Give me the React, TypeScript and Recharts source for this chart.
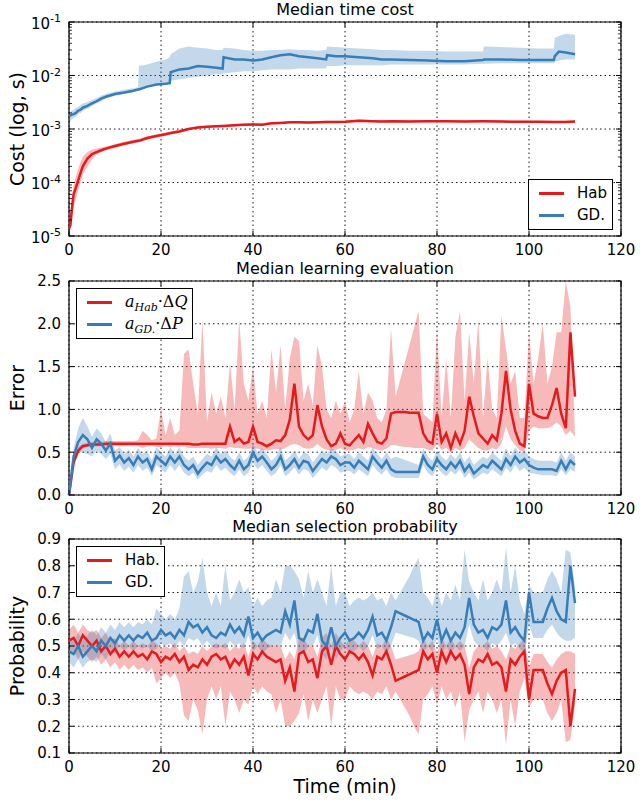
import { type FC, type ReactNode } from "react";
import {
  ComposedChart,
  Area,
  Line,
  XAxis,
  YAxis,
  CartesianGrid,
  ReferenceArea,
} from "recharts";

// ---- panel 1: median time cost (log scale) ----
const COST_T = [
  0, 0.3, 0.6, 1, 1.5, 2, 2.5, 3, 4, 5,
  6, 7, 8, 10, 12, 14, 15, 15.2, 17, 19,
  21, 21.9, 22.1, 24, 26, 28, 30, 32, 33.4, 33.6,
  36, 38, 40, 42, 44, 46, 48, 50, 52, 54,
  55.9, 56.1, 58, 60, 63, 66, 68, 70, 74, 78,
  82, 86, 90, 90.2, 94, 98, 102, 105.4, 105.6, 106.5,
  108, 110,
];
const COST_HAB = [
  1.4e-5, 1.6e-5, 3e-5, 6e-5, 8e-5, 1.1e-4, 1.5e-4, 2e-4, 2.8e-4, 3.4e-4,
  3.7e-4, 4e-4, 4.3e-4, 4.8e-4, 5.3e-4, 5.8e-4, 6e-4, 6e-4, 6.8e-4, 7.4e-4,
  8e-4, 8.3e-4, 8.4e-4, 9e-4, 1e-3, 1.07e-3, 1.1e-3, 1.12e-3, 1.14e-3, 1.14e-3,
  1.17e-3, 1.2e-3, 1.22e-3, 1.2e-3, 1.28e-3, 1.3e-3, 1.33e-3, 1.33e-3, 1.32e-3, 1.33e-3,
  1.35e-3, 1.35e-3, 1.35e-3, 1.36e-3, 1.42e-3, 1.4e-3, 1.38e-3, 1.4e-3, 1.38e-3, 1.4e-3,
  1.4e-3, 1.38e-3, 1.4e-3, 1.4e-3, 1.38e-3, 1.36e-3, 1.36e-3, 1.35e-3, 1.35e-3, 1.35e-3,
  1.35e-3, 1.38e-3,
];
const COST_HAB_LO = [
  1.2e-5, 1.3e-5, 2e-5, 3.5e-5, 5e-5, 7e-5, 1e-4, 1.4e-4, 2e-4, 2.7e-4,
  3.3e-4, 3.7e-4, 4e-4, 4.4e-4, 4.9e-4, 5.4e-4, 5.6e-4, 5.6e-4, 6.3e-4, 6.9e-4,
  7.5e-4, 7.8e-4, 7.9e-4, 8.5e-4, 9.5e-4, 1.02e-3, 1.05e-3, 1.07e-3, 1.09e-3, 1.09e-3,
  1.12e-3, 1.15e-3, 1.16e-3, 1.15e-3, 1.22e-3, 1.24e-3, 1.27e-3, 1.27e-3, 1.26e-3, 1.27e-3,
  1.29e-3, 1.29e-3, 1.29e-3, 1.3e-3, 1.35e-3, 1.33e-3, 1.32e-3, 1.33e-3, 1.32e-3, 1.33e-3,
  1.33e-3, 1.32e-3, 1.33e-3, 1.33e-3, 1.32e-3, 1.3e-3, 1.3e-3, 1.29e-3, 1.29e-3, 1.29e-3,
  1.29e-3, 1.31e-3,
];
const COST_HAB_HI = [
  1.8e-5, 2.5e-5, 5e-5, 9e-5, 1.3e-4, 1.8e-4, 2.4e-4, 3e-4, 3.7e-4, 4.1e-4,
  4.3e-4, 4.5e-4, 4.7e-4, 5.2e-4, 5.8e-4, 6.3e-4, 6.5e-4, 6.5e-4, 7.3e-4, 7.9e-4,
  8.6e-4, 8.9e-4, 9e-4, 9.8e-4, 1.06e-3, 1.12e-3, 1.16e-3, 1.18e-3, 1.2e-3, 1.2e-3,
  1.24e-3, 1.27e-3, 1.29e-3, 1.27e-3, 1.35e-3, 1.37e-3, 1.4e-3, 1.4e-3, 1.39e-3, 1.4e-3,
  1.42e-3, 1.42e-3, 1.42e-3, 1.43e-3, 1.5e-3, 1.48e-3, 1.46e-3, 1.47e-3, 1.45e-3, 1.48e-3,
  1.48e-3, 1.45e-3, 1.47e-3, 1.47e-3, 1.45e-3, 1.43e-3, 1.43e-3, 1.42e-3, 1.42e-3, 1.42e-3,
  1.42e-3, 1.45e-3,
];
const COST_GD = [
  1.7e-3, 1.8e-3, 1.85e-3, 1.9e-3, 2e-3, 2.2e-3, 2.3e-3, 2.5e-3, 2.7e-3, 3e-3,
  3.3e-3, 3.7e-3, 4e-3, 4.5e-3, 4.8e-3, 5.2e-3, 5.5e-3, 5.5e-3, 6.2e-3, 6.8e-3,
  7e-3, 7.2e-3, 1.15e-2, 1.3e-2, 1.35e-2, 1.5e-2, 1.45e-2, 1.4e-2, 1.35e-2, 2.2e-2,
  2e-2, 2e-2, 1.9e-2, 2e-2, 2.2e-2, 2.4e-2, 2.5e-2, 2.3e-2, 2.2e-2, 2.1e-2,
  2e-2, 2.4e-2, 2.3e-2, 2.3e-2, 2.2e-2, 2.1e-2, 2e-2, 2e-2, 1.95e-2, 1.9e-2,
  1.85e-2, 1.85e-2, 1.95e-2, 2e-2, 2e-2, 1.95e-2, 1.95e-2, 1.95e-2, 2.3e-2, 2.8e-2,
  2.7e-2, 2.5e-2,
];
const COST_GD_LO = [
  1.3e-3, 1.4e-3, 1.5e-3, 1.6e-3, 1.7e-3, 1.9e-3, 2e-3, 2.2e-3, 2.4e-3, 2.7e-3,
  3e-3, 3.3e-3, 3.7e-3, 4.2e-3, 4.5e-3, 4.9e-3, 5.2e-3, 5.3e-3, 6e-3, 6.5e-3,
  7e-3, 7.2e-3, 8e-3, 8.5e-3, 9e-3, 9.5e-3, 1e-2, 1.05e-2, 1.05e-2, 1.1e-2,
  1.15e-2, 1.2e-2, 1.2e-2, 1.25e-2, 1.3e-2, 1.3e-2, 1.3e-2, 1.35e-2, 1.35e-2, 1.35e-2,
  1.35e-2, 1.5e-2, 1.5e-2, 1.55e-2, 1.55e-2, 1.55e-2, 1.55e-2, 1.6e-2, 1.6e-2, 1.6e-2,
  1.6e-2, 1.6e-2, 1.65e-2, 1.65e-2, 1.7e-2, 1.7e-2, 1.7e-2, 1.7e-2, 1.8e-2, 1.9e-2,
  2e-2, 2e-2,
];
const COST_GD_HI = [
  2e-3, 2.1e-3, 2.2e-3, 2.3e-3, 2.5e-3, 2.6e-3, 2.8e-3, 3e-3, 3.2e-3, 3.5e-3,
  3.8e-3, 4.2e-3, 4.5e-3, 5e-3, 5.4e-3, 5.8e-3, 6e-3, 1.5e-2, 1.6e-2, 1.8e-2,
  2e-2, 2.2e-2, 2.5e-2, 3.2e-2, 3.5e-2, 3.3e-2, 3.2e-2, 3e-2, 3e-2, 3.3e-2,
  3.2e-2, 3e-2, 2.9e-2, 2.9e-2, 3e-2, 3e-2, 3.1e-2, 3e-2, 3e-2, 2.9e-2,
  3e-2, 3.5e-2, 3.4e-2, 3.3e-2, 3.2e-2, 3.1e-2, 3e-2, 3e-2, 2.9e-2, 2.9e-2,
  2.8e-2, 2.8e-2, 2.8e-2, 3.5e-2, 3.4e-2, 3.3e-2, 3.2e-2, 3.2e-2, 5e-2, 5.5e-2,
  6e-2, 5.8e-2,
];

// ---- panels 2 and 3 share one time base (minutes) ----
const T = [
  0, 1, 2, 3, 4, 5, 6, 7, 8, 9,
  10, 11, 12, 13, 14, 15, 16, 17, 18, 19,
  20, 21, 22, 23, 24, 25, 26, 27, 28, 29,
  30, 31, 32, 33, 34, 35, 36, 37, 38, 39,
  40, 41, 42, 43, 44, 45, 46, 47, 48, 49,
  50, 51, 52, 53, 54, 55, 56, 57, 58, 59,
  60, 61, 62, 63, 64, 65, 66, 67, 68, 69,
  70, 71, 72, 73, 74, 75, 76, 77, 78, 79,
  80, 81, 82, 83, 84, 85, 86, 87, 88, 89,
  90, 91, 92, 93, 94, 95, 96, 97, 98, 99,
  100, 101, 102, 103, 104, 105, 106, 107, 108, 109,
  110,
];

// ---- panel 2: median learning evaluation ----
const ERR_HAB = [
  0, 0.38, 0.52, 0.57, 0.58, 0.59, 0.59, 0.59, 0.6, 0.6,
  0.6, 0.6, 0.6, 0.6, 0.6, 0.6, 0.6, 0.6, 0.6, 0.6,
  0.6, 0.6, 0.6, 0.6, 0.6, 0.6, 0.6, 0.59, 0.59, 0.6,
  0.6, 0.6, 0.6, 0.6, 0.6, 0.8, 0.62, 0.66, 0.6, 0.62,
  0.8, 0.62, 0.6, 0.57, 0.6, 0.64, 0.63, 0.7, 0.88, 1.3,
  0.8, 0.7, 0.65, 0.7, 1.05, 0.8, 0.65, 0.57, 0.6, 0.72,
  0.6, 0.58, 0.64, 0.7, 0.62, 0.83, 0.72, 0.62, 0.6, 0.66,
  0.95, 0.97, 0.97, 0.97, 0.96, 0.96, 0.96, 0.72, 0.63, 0.6,
  0.95, 0.62, 0.72, 0.55, 0.72, 0.6, 0.75, 1.15, 0.92, 0.72,
  0.66, 0.6, 0.7, 0.64, 0.95, 1.45, 1.0, 0.75, 0.6, 0.57,
  1.3, 0.95, 0.92, 0.9, 0.9, 1.05, 1.25, 0.95, 0.78, 1.9,
  1.15,
];
const ERR_HAB_LO = [
  0, 0.34, 0.48, 0.54, 0.56, 0.57, 0.57, 0.57, 0.57, 0.57,
  0.57, 0.57, 0.57, 0.57, 0.57, 0.57, 0.55, 0.57, 0.57, 0.56,
  0.56, 0.57, 0.56, 0.57, 0.56, 0.57, 0.55, 0.55, 0.55, 0.55,
  0.55, 0.54, 0.55, 0.55, 0.54, 0.56, 0.55, 0.55, 0.54, 0.54,
  0.55, 0.54, 0.53, 0.52, 0.53, 0.54, 0.53, 0.55, 0.58, 0.6,
  0.58, 0.55, 0.54, 0.55, 0.6, 0.55, 0.53, 0.52, 0.53, 0.55,
  0.52, 0.52, 0.53, 0.55, 0.53, 0.56, 0.55, 0.53, 0.52, 0.54,
  0.58, 0.58, 0.57, 0.56, 0.56, 0.55, 0.55, 0.55, 0.53, 0.52,
  0.6, 0.53, 0.55, 0.5, 0.55, 0.52, 0.55, 0.65, 0.6, 0.55,
  0.52, 0.52, 0.55, 0.53, 0.6, 0.8, 0.65, 0.58, 0.52, 0.5,
  0.75, 0.8, 0.78, 0.78, 0.78, 0.8, 0.85, 0.8, 0.7, 0.75,
  0.68,
];
const ERR_HAB_HI = [
  0, 0.42, 0.56, 0.6, 0.61, 0.62, 0.62, 0.62, 0.63, 0.63,
  0.63, 0.63, 0.63, 0.63, 0.63, 0.64, 0.75, 0.7, 0.64, 0.66,
  1.0, 0.7, 0.9, 0.7, 0.75, 1.65, 1.7, 1.3, 0.95, 2.05,
  0.85, 1.2, 0.95, 1.15, 0.9, 1.55, 1.0, 2.05, 1.3, 1.1,
  1.5, 0.95, 1.1, 0.9, 1.7, 1.2, 1.75, 1.0, 1.6, 1.85,
  1.8, 1.1, 1.3, 1.05, 1.75, 1.5, 1.0, 0.9, 1.1, 0.95,
  1.1, 0.85, 1.0, 1.45, 0.95, 1.2, 1.1, 0.9, 0.85, 1.0,
  1.95, 1.15, 1.35, 1.55, 1.75, 1.95, 2.15, 0.95, 0.9, 0.85,
  1.95, 0.9, 1.6, 0.9, 1.85, 2.15, 1.1, 1.9, 1.3, 2.05,
  0.9, 1.6, 1.0, 0.9, 2.1, 1.7, 1.3, 1.45, 0.9, 0.9,
  1.9, 1.3, 1.6, 2.0, 1.3, 1.5, 1.9, 1.9, 2.5, 2.2,
  0.7,
];
const ERR_GD = [
  0, 0.45, 0.62, 0.7, 0.65, 0.55, 0.65, 0.6, 0.52, 0.6,
  0.4, 0.46, 0.38, 0.43, 0.35, 0.45, 0.38, 0.42, 0.3, 0.45,
  0.4, 0.35, 0.45, 0.38, 0.45, 0.35, 0.3, 0.35, 0.25, 0.32,
  0.38, 0.35, 0.45, 0.38, 0.42, 0.35, 0.3, 0.4, 0.3, 0.35,
  0.5, 0.4, 0.45, 0.38, 0.3, 0.35, 0.45, 0.3, 0.35, 0.42,
  0.32, 0.4, 0.38, 0.28, 0.35, 0.42, 0.38, 0.45, 0.42, 0.35,
  0.38, 0.38, 0.32, 0.4, 0.35, 0.3, 0.45, 0.38, 0.32, 0.4,
  0.3, 0.27, 0.27, 0.27, 0.27, 0.27, 0.27, 0.45, 0.35, 0.3,
  0.42, 0.35, 0.3, 0.38, 0.32, 0.4, 0.28, 0.35, 0.25, 0.3,
  0.35, 0.32, 0.4, 0.35, 0.3, 0.42, 0.35, 0.45, 0.38, 0.42,
  0.35, 0.32, 0.3, 0.3, 0.3, 0.3, 0.28, 0.4, 0.3, 0.4,
  0.35,
];
const ERR_GD_LO = [
  0, 0.35, 0.5, 0.5, 0.48, 0.45, 0.52, 0.48, 0.42, 0.48,
  0.3, 0.36, 0.28, 0.33, 0.26, 0.35, 0.28, 0.32, 0.22, 0.35,
  0.3, 0.26, 0.35, 0.28, 0.35, 0.26, 0.22, 0.26, 0.18, 0.24,
  0.28, 0.26, 0.35, 0.28, 0.32, 0.26, 0.22, 0.3, 0.22, 0.26,
  0.38, 0.3, 0.35, 0.28, 0.22, 0.26, 0.35, 0.22, 0.26, 0.32,
  0.24, 0.3, 0.28, 0.2, 0.26, 0.32, 0.28, 0.35, 0.32, 0.26,
  0.28, 0.28, 0.24, 0.3, 0.26, 0.22, 0.35, 0.28, 0.24, 0.3,
  0.22, 0.2, 0.2, 0.2, 0.2, 0.2, 0.2, 0.35, 0.26, 0.22,
  0.32, 0.26, 0.22, 0.28, 0.24, 0.3, 0.2, 0.26, 0.18, 0.22,
  0.26, 0.24, 0.3, 0.26, 0.22, 0.32, 0.26, 0.35, 0.28, 0.32,
  0.26, 0.25, 0.24, 0.23, 0.23, 0.23, 0.22, 0.3, 0.23, 0.3,
  0.27,
];
const ERR_GD_HI = [
  0, 0.55, 0.78, 0.9, 0.8, 0.68, 0.78, 0.72, 0.62, 0.72,
  0.52, 0.56, 0.48, 0.53, 0.45, 0.55, 0.48, 0.52, 0.4, 0.56,
  0.5, 0.45, 0.56, 0.48, 0.56, 0.45, 0.4, 0.45, 0.35, 0.42,
  0.48, 0.45, 0.56, 0.48, 0.52, 0.45, 0.4, 0.5, 0.4, 0.45,
  0.6, 0.5, 0.55, 0.48, 0.4, 0.45, 0.56, 0.4, 0.45, 0.52,
  0.42, 0.5, 0.48, 0.38, 0.45, 0.52, 0.48, 0.55, 0.52, 0.45,
  0.48, 0.48, 0.42, 0.5, 0.45, 0.4, 0.56, 0.48, 0.42, 0.5,
  0.42, 0.45, 0.43, 0.41, 0.39, 0.37, 0.35, 0.55, 0.45, 0.4,
  0.52, 0.45, 0.4, 0.48, 0.42, 0.5, 0.38, 0.45, 0.35, 0.4,
  0.45, 0.42, 0.5, 0.45, 0.4, 0.55, 0.45, 0.56, 0.48, 0.52,
  0.45, 0.42, 0.4, 0.4, 0.4, 0.4, 0.38, 0.5, 0.4, 0.5,
  0.45,
];

// ---- panel 3: median selection probability ----
const PROB_HAB = [
  0.52, 0.53, 0.5, 0.54, 0.52, 0.5, 0.52, 0.48, 0.5, 0.47,
  0.49, 0.46, 0.48, 0.46, 0.48, 0.46, 0.47, 0.45, 0.48, 0.47,
  0.44, 0.46, 0.45, 0.47, 0.44, 0.46, 0.41, 0.43, 0.42, 0.45,
  0.43, 0.46, 0.47, 0.45, 0.46, 0.42, 0.45, 0.43, 0.46, 0.39,
  0.47, 0.45, 0.48, 0.46, 0.45, 0.44, 0.45, 0.37, 0.42, 0.33,
  0.47, 0.48, 0.44, 0.45, 0.38, 0.48, 0.5, 0.43, 0.5, 0.47,
  0.45, 0.48, 0.47, 0.45, 0.47, 0.44, 0.39, 0.46, 0.45, 0.48,
  0.43, 0.37, 0.378, 0.386, 0.394, 0.402, 0.41, 0.48, 0.45, 0.47,
  0.4, 0.48, 0.44, 0.48, 0.45, 0.47, 0.43, 0.32, 0.42, 0.45,
  0.44, 0.47, 0.43, 0.44, 0.42, 0.33, 0.45, 0.43, 0.46, 0.48,
  0.3, 0.41, 0.41, 0.41, 0.36, 0.32, 0.37, 0.4, 0.41, 0.2,
  0.34,
];
const PROB_HAB_LO = [
  0.47, 0.48, 0.45, 0.48, 0.46, 0.44, 0.46, 0.43, 0.45, 0.42,
  0.44, 0.41, 0.43, 0.41, 0.43, 0.41, 0.42, 0.4, 0.42, 0.36,
  0.38, 0.4, 0.38, 0.4, 0.36, 0.24, 0.22, 0.3, 0.26, 0.17,
  0.3, 0.35, 0.3, 0.35, 0.2, 0.33, 0.3, 0.25, 0.3, 0.28,
  0.35, 0.32, 0.35, 0.33, 0.32, 0.25, 0.3, 0.2, 0.2, 0.22,
  0.25, 0.32, 0.22, 0.3, 0.25, 0.3, 0.35, 0.2, 0.35, 0.3,
  0.3, 0.35, 0.33, 0.32, 0.33, 0.32, 0.3, 0.33, 0.32, 0.35,
  0.3, 0.33, 0.3, 0.27, 0.24, 0.2, 0.17, 0.3, 0.32, 0.35,
  0.28, 0.35, 0.3, 0.33, 0.27, 0.33, 0.14, 0.26, 0.3, 0.33,
  0.25, 0.33, 0.3, 0.25, 0.3, 0.13, 0.3, 0.2, 0.33, 0.38,
  0.27, 0.3, 0.3, 0.3, 0.25, 0.22, 0.25, 0.3, 0.14, 0.15,
  0.28,
];
const PROB_HAB_HI = [
  0.56, 0.58, 0.55, 0.58, 0.56, 0.55, 0.56, 0.53, 0.55, 0.52,
  0.53, 0.5, 0.52, 0.5, 0.52, 0.5, 0.51, 0.5, 0.52, 0.51,
  0.49, 0.5, 0.49, 0.51, 0.48, 0.5, 0.47, 0.48, 0.47, 0.5,
  0.48, 0.5, 0.51, 0.5, 0.51, 0.48, 0.5, 0.49, 0.51, 0.46,
  0.52, 0.5, 0.53, 0.51, 0.5, 0.5, 0.5, 0.45, 0.48, 0.45,
  0.53, 0.53, 0.5, 0.5, 0.46, 0.53, 0.55, 0.5, 0.55, 0.52,
  0.5, 0.53, 0.52, 0.5, 0.52, 0.5, 0.46, 0.51, 0.5, 0.53,
  0.5, 0.45, 0.455, 0.46, 0.465, 0.47, 0.48, 0.53, 0.5, 0.52,
  0.47, 0.53, 0.5, 0.53, 0.5, 0.52, 0.5, 0.42, 0.48, 0.5,
  0.5, 0.52, 0.49, 0.5, 0.48, 0.45, 0.5, 0.49, 0.51, 0.53,
  0.42, 0.47, 0.47, 0.47, 0.44, 0.42, 0.45, 0.47, 0.48, 0.48,
  0.47,
];
const PROB_GD = [
  0.48, 0.47, 0.5, 0.46, 0.48, 0.5, 0.48, 0.52, 0.5, 0.53,
  0.51, 0.54, 0.52, 0.54, 0.52, 0.54, 0.53, 0.55, 0.52, 0.53,
  0.56, 0.54, 0.55, 0.53, 0.56, 0.54, 0.59, 0.57, 0.58, 0.55,
  0.57, 0.54, 0.53, 0.55, 0.54, 0.58, 0.55, 0.57, 0.54, 0.61,
  0.53, 0.55, 0.52, 0.54, 0.55, 0.56, 0.55, 0.63, 0.58, 0.67,
  0.53, 0.52, 0.56, 0.55, 0.62, 0.52, 0.5, 0.57, 0.5, 0.53,
  0.55, 0.52, 0.53, 0.55, 0.53, 0.56, 0.61, 0.54, 0.55, 0.52,
  0.57, 0.63, 0.622, 0.614, 0.606, 0.598, 0.59, 0.52, 0.55, 0.53,
  0.6, 0.52, 0.56, 0.52, 0.55, 0.53, 0.57, 0.68, 0.58, 0.55,
  0.56, 0.53, 0.57, 0.56, 0.58, 0.67, 0.55, 0.57, 0.54, 0.52,
  0.7, 0.59, 0.59, 0.59, 0.64, 0.68, 0.63, 0.6, 0.59, 0.8,
  0.66,
];
const PROB_GD_LO = [
  0.44, 0.42, 0.45, 0.42, 0.44, 0.45, 0.44, 0.47, 0.45, 0.48,
  0.47, 0.5, 0.48, 0.5, 0.48, 0.5, 0.49, 0.5, 0.48, 0.49,
  0.51, 0.5, 0.51, 0.49, 0.52, 0.5, 0.53, 0.52, 0.53, 0.5,
  0.52, 0.5, 0.49, 0.5, 0.49, 0.52, 0.5, 0.51, 0.49, 0.54,
  0.48, 0.5, 0.47, 0.49, 0.5, 0.5, 0.5, 0.55, 0.52, 0.55,
  0.47, 0.47, 0.5, 0.5, 0.54, 0.47, 0.45, 0.5, 0.45, 0.48,
  0.5, 0.47, 0.48, 0.5, 0.48, 0.5, 0.54, 0.49, 0.5, 0.47,
  0.5, 0.55, 0.545, 0.54, 0.535, 0.53, 0.52, 0.47, 0.5, 0.48,
  0.53, 0.47, 0.5, 0.47, 0.5, 0.48, 0.5, 0.58, 0.52, 0.5,
  0.5, 0.48, 0.51, 0.5, 0.52, 0.55, 0.5, 0.51, 0.49, 0.47,
  0.58, 0.53, 0.53, 0.53, 0.56, 0.58, 0.55, 0.53, 0.52, 0.52,
  0.53,
];
const PROB_GD_HI = [
  0.53, 0.52, 0.55, 0.52, 0.54, 0.56, 0.54, 0.57, 0.55, 0.58,
  0.56, 0.59, 0.57, 0.59, 0.57, 0.59, 0.58, 0.6, 0.58, 0.64,
  0.62, 0.6, 0.62, 0.6, 0.64, 0.76, 0.78, 0.7, 0.74, 0.83,
  0.7, 0.65, 0.7, 0.65, 0.8, 0.67, 0.7, 0.75, 0.7, 0.72,
  0.65, 0.68, 0.65, 0.67, 0.68, 0.75, 0.7, 0.8, 0.8, 0.78,
  0.75, 0.68, 0.78, 0.7, 0.75, 0.7, 0.65, 0.8, 0.65, 0.7,
  0.7, 0.65, 0.67, 0.68, 0.67, 0.68, 0.7, 0.67, 0.68, 0.65,
  0.7, 0.67, 0.7, 0.73, 0.76, 0.8, 0.83, 0.7, 0.68, 0.65,
  0.72, 0.65, 0.7, 0.67, 0.73, 0.67, 0.86, 0.74, 0.7, 0.67,
  0.75, 0.67, 0.7, 0.75, 0.7, 0.87, 0.7, 0.8, 0.67, 0.62,
  0.73, 0.7, 0.7, 0.7, 0.75, 0.78, 0.75, 0.7, 0.86, 0.85,
  0.72,
];

const X_TICKS = [0, 20, 40, 60, 80, 100, 120];
const COST_TICKS = [1e-5, 1e-4, 1e-3, 1e-2, 1e-1];
const ERR_TICKS = [0, 0.5, 1, 1.5, 2, 2.5];
const PROB_TICKS = [0.1, 0.2, 0.3, 0.4, 0.5, 0.6, 0.7, 0.8, 0.9];
const LOG_MINOR = [2, 3, 4, 5, 6, 7, 8, 9];

const RED = "#e41a1c";
const BLUE = "#377eb8";
const FONT = "'DejaVu Sans', sans-serif";

// plot box geometry (matches the reference)
const PLOT_LEFT = 69;
const PW = 552;
const PH = 214;
const TOP_PAD = 22;
const X_AXIS_H = 26;
const CH = TOP_PAD + PH + X_AXIS_H;
const M = 8; // tick label gap
const TK = 5; // inward tick length
const DECADE = PH / (COST_TICKS.length - 1);

const band = (lo: number[], hi: number[], i: number) => [lo[i], hi[i]];

const costRows = COST_T.map((t, i) => ({
  t,
  hab: COST_HAB[i],
  habBand: band(COST_HAB_LO, COST_HAB_HI, i),
  gd: COST_GD[i],
  gdBand: band(COST_GD_LO, COST_GD_HI, i),
}));
const errRows = T.map((t, i) => ({
  t,
  hab: ERR_HAB[i],
  habBand: band(ERR_HAB_LO, ERR_HAB_HI, i),
  gd: ERR_GD[i],
  gdBand: band(ERR_GD_LO, ERR_GD_HI, i),
}));
const probRows = T.map((t, i) => ({
  t,
  hab: PROB_HAB[i],
  habBand: band(PROB_HAB_LO, PROB_HAB_HI, i),
  gd: PROB_GD[i],
  gdBand: band(PROB_GD_LO, PROB_GD_HI, i),
}));

const XTick = (props: any) => {
  const { x, y, payload } = props;
  const ay = y - M;
  return (
    <g>
      <line x1={x} x2={x} y1={ay} y2={ay - TK} stroke="#000" />
      <line x1={x} x2={x} y1={ay - PH} y2={ay - PH + TK} stroke="#000" />
      <text x={x} y={y} dy="0.76em" textAnchor="middle" fontSize={15} fontFamily={FONT} fill="#000">
        {payload.value}
      </text>
    </g>
  );
};

const makeYTick = (log: boolean) => (props: any) => {
  const { x, y, payload, index } = props;
  const ax = x + M;
  const v = payload.value as number;
  // minor log ticks inside the decade above this major tick
  const minors =
    log && index < COST_TICKS.length - 1
      ? LOG_MINOR.map((k) => y - Math.log10(k) * DECADE)
      : [];
  return (
    <g>
      <line x1={ax} x2={ax + TK} y1={y} y2={y} stroke="#000" />
      <line x1={ax + PW} x2={ax + PW - TK} y1={y} y2={y} stroke="#000" />
      {minors.map((my, i) => (
        <g key={i}>
          <line x1={ax} x2={ax + 3} y1={my} y2={my} stroke="#000" strokeWidth={0.8} />
          <line x1={ax + PW} x2={ax + PW - 3} y1={my} y2={my} stroke="#000" strokeWidth={0.8} />
        </g>
      ))}
      {log ? (
        <text x={x} y={y} dy="0.45em" textAnchor="end" fontSize={15} fontFamily={FONT} fill="#000">
          10
          <tspan dy="-0.6em" fontSize={11}>
            {`-${Math.round(-Math.log10(v))}`}
          </tspan>
        </text>
      ) : (
        <text x={x} y={y} dy="0.36em" textAnchor="end" fontSize={15} fontFamily={FONT} fill="#000">
          {v.toFixed(1)}
        </text>
      )}
    </g>
  );
};

interface PanelProps {
  top: number;
  rows: any[];
  domain: [number, number];
  ticks: number[];
  log?: boolean;
  title: string;
  ylabel: string;
  legend: ReactNode;
}

const Panel: FC<PanelProps> = ({ top, rows, domain, ticks, log, title, ylabel, legend }) => (
  <div style={{ position: "absolute", left: 0, top, width: 640, height: CH }}>
    <div
      style={{
        position: "absolute",
        left: PLOT_LEFT,
        width: PW,
        top: TOP_PAD - 21,
        textAlign: "center",
        fontSize: 16,
        lineHeight: "18px",
      }}
    >
      {title}
    </div>
    <div
      style={{
        position: "absolute",
        left: 17,
        top: TOP_PAD + PH / 2,
        transform: "translate(-50%, -50%) rotate(-90deg)",
        fontSize: 19,
        whiteSpace: "nowrap",
      }}
    >
      {ylabel}
    </div>
    <ComposedChart
      width={640}
      height={CH}
      data={rows}
      margin={{ top: TOP_PAD, right: 640 - PLOT_LEFT - PW, bottom: 0, left: 0 }}
    >
      <CartesianGrid stroke="#000" strokeDasharray="1.5 3" strokeWidth={0.9} />
      <XAxis
        dataKey="t"
        type="number"
        domain={[0, 120]}
        ticks={X_TICKS}
        height={X_AXIS_H}
        tickSize={0}
        tickMargin={M}
        axisLine={false}
        tick={XTick}
        interval={0}
      />
      <YAxis
        type="number"
        scale={log ? "log" : "linear"}
        domain={domain}
        ticks={ticks}
        allowDataOverflow
        width={PLOT_LEFT}
        tickSize={0}
        tickMargin={M}
        axisLine={false}
        tick={makeYTick(!!log)}
        interval={0}
      />
      <Area dataKey="habBand" stroke="none" fill={RED} fillOpacity={0.3} isAnimationActive={false} />
      <Line dataKey="hab" stroke={RED} strokeWidth={2.5} dot={false} isAnimationActive={false} />
      <Area dataKey="gdBand" stroke="none" fill={BLUE} fillOpacity={0.3} isAnimationActive={false} />
      <Line dataKey="gd" stroke={BLUE} strokeWidth={2.5} dot={false} isAnimationActive={false} />
      <ReferenceArea
        x1={0}
        x2={120}
        y1={domain[0]}
        y2={domain[1]}
        fill="none"
        stroke="#000"
        strokeWidth={1.2}
        ifOverflow="visible"
      />
    </ComposedChart>
    {legend}
  </div>
);

interface LegendItem {
  color: string;
  label: ReactNode;
}

const LegendBox: FC<{ left: number; top: number; width: number; items: LegendItem[] }> = ({
  left,
  top,
  width,
  items,
}) => (
  <div
    style={{
      position: "absolute",
      left,
      top,
      width,
      height: 51,
      border: "1.2px solid #000",
      background: "#fff",
      boxSizing: "border-box",
    }}
  >
    {items.map((it, i) => (
      <div key={i} style={{ position: "absolute", left: 0, top: 3 + i * 22, height: 20, width: "100%" }}>
        <div
          style={{
            position: "absolute",
            left: 10,
            top: 9,
            width: 25,
            height: 3,
            background: it.color,
          }}
        />
        <div style={{ position: "absolute", left: 48, top: 0, fontSize: 15, lineHeight: "20px", whiteSpace: "nowrap" }}>
          {it.label}
        </div>
      </div>
    ))}
  </div>
);

const mathStyle = { fontFamily: "'DejaVu Serif', serif", fontSize: 16 } as const;

const HabMath = (
  <span style={mathStyle}>
    <i>a</i>
    <sub style={{ fontSize: 11, fontStyle: "italic" }}>Hab</sub>
    {"\u00b7\u0394"}
    <i>Q</i>
  </span>
);
const GdMath = (
  <span style={mathStyle}>
    <i>a</i>
    <sub style={{ fontSize: 11, fontStyle: "italic" }}>GD.</sub>
    {"\u00b7\u0394"}
    <i>P</i>
  </span>
);

export default function App() {
  return (
    <div
      style={{
        position: "absolute",
        left: 0,
        top: 0,
        width: 640,
        height: 803,
        background: "#fff",
        fontFamily: FONT,
        color: "#000",
      }}
    >
      <Panel
        top={0}
        rows={costRows}
        domain={[1e-5, 1e-1]}
        ticks={COST_TICKS}
        log
        title="Median time cost"
        ylabel="Cost (log, s)"
        legend={
          <LegendBox
            left={528}
            top={179}
            width={85}
            items={[
              { color: RED, label: "Hab" },
              { color: BLUE, label: "GD." },
            ]}
          />
        }
      />
      <Panel
        top={259}
        rows={errRows}
        domain={[0, 2.5]}
        ticks={ERR_TICKS}
        title="Median learning evaluation"
        ylabel="Error"
        legend={
          <LegendBox
            left={76}
            top={29}
            width={117}
            items={[
              { color: RED, label: HabMath },
              { color: BLUE, label: GdMath },
            ]}
          />
        }
      />
      <Panel
        top={517}
        rows={probRows}
        domain={[0.1, 0.9]}
        ticks={PROB_TICKS}
        title="Median selection probability"
        ylabel="Probability"
        legend={
          <LegendBox
            left={76}
            top={29}
            width={89}
            items={[
              { color: RED, label: "Hab." },
              { color: BLUE, label: "GD." },
            ]}
          />
        }
      />
      <div
        style={{
          position: "absolute",
          left: PLOT_LEFT,
          width: PW,
          top: 774,
          textAlign: "center",
          fontSize: 19,
          lineHeight: "24px",
        }}
      >
        Time (min)
      </div>
    </div>
  );
}
